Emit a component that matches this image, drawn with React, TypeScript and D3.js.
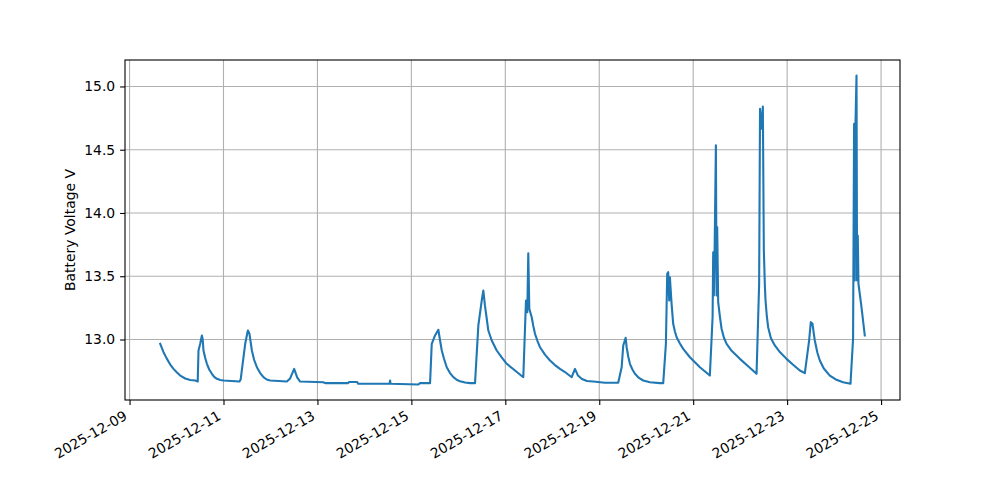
import { useEffect, useRef } from 'react'

import * as d3 from 'd3'

// days since 2025-12-09 00:00 UTC
const startDay = Date.UTC(2025, 11, 9)

// [day offset, battery voltage]
const readings: [number, number][] = [
  [0.653, 12.966], [0.723, 12.9], [0.796, 12.847], [0.866, 12.802], [0.936, 12.768],
  [1.009, 12.739], [1.079, 12.715], [1.185, 12.692], [1.291, 12.68], [1.398, 12.676],
  [1.451, 12.668], [1.468, 12.913], [1.504, 12.966], [1.54, 13.032], [1.557, 13.0],
  [1.574, 12.913], [1.611, 12.854], [1.647, 12.808], [1.696, 12.763], [1.753, 12.729],
  [1.802, 12.705], [1.86, 12.689], [1.93, 12.68], [2.0, 12.676], [2.34, 12.668],
  [2.366, 12.684], [2.426, 12.86], [2.462, 12.966], [2.519, 13.071], [2.553, 13.045],
  [2.604, 12.913], [2.653, 12.838], [2.711, 12.781], [2.781, 12.735], [2.851, 12.702],
  [2.919, 12.684], [2.994, 12.676], [3.349, 12.668], [3.419, 12.692], [3.504, 12.768],
  [3.568, 12.7], [3.632, 12.668], [4.128, 12.662], [4.164, 12.655], [4.653, 12.655],
  [4.675, 12.664], [4.845, 12.664], [4.866, 12.65], [5.536, 12.65], [5.547, 12.676],
  [5.557, 12.65], [6.143, 12.644], [6.185, 12.655], [6.398, 12.655], [6.434, 12.966],
  [6.504, 13.032], [6.574, 13.077], [6.611, 12.992], [6.647, 12.913], [6.696, 12.846],
  [6.753, 12.781], [6.823, 12.735], [6.894, 12.702], [6.972, 12.68], [7.036, 12.67],
  [7.143, 12.66], [7.249, 12.655], [7.355, 12.655], [7.426, 13.111], [7.498, 13.308],
  [7.532, 13.387], [7.566, 13.269], [7.604, 13.166], [7.638, 13.071], [7.711, 12.992],
  [7.817, 12.913], [7.923, 12.858], [8.03, 12.808], [8.206, 12.755], [8.383, 12.702],
  [8.44, 13.308], [8.468, 13.216], [8.489, 13.682], [8.511, 13.243], [8.562, 13.176],
  [8.596, 13.107], [8.632, 13.045], [8.685, 12.988], [8.738, 12.939], [8.845, 12.881],
  [8.951, 12.834], [9.057, 12.798], [9.164, 12.768], [9.27, 12.743], [9.413, 12.702],
  [9.483, 12.768], [9.547, 12.715], [9.632, 12.688], [9.738, 12.672], [9.872, 12.668],
  [10.121, 12.658], [10.404, 12.658], [10.477, 12.781], [10.511, 12.953], [10.562, 13.013],
  [10.583, 12.939], [10.617, 12.866], [10.653, 12.808], [10.706, 12.763], [10.76, 12.729],
  [10.845, 12.696], [10.936, 12.676], [11.079, 12.662], [11.291, 12.655], [11.362, 12.655],
  [11.419, 12.966], [11.447, 13.519], [11.468, 13.532], [11.489, 13.308], [11.504, 13.492],
  [11.54, 13.282], [11.574, 13.124], [11.611, 13.063], [11.647, 13.018], [11.717, 12.968],
  [11.787, 12.926], [11.93, 12.86], [12.143, 12.781], [12.355, 12.715], [12.413, 13.176],
  [12.426, 13.69], [12.44, 13.348], [12.455, 13.664], [12.483, 14.534], [12.498, 13.348],
  [12.511, 13.888], [12.532, 13.295], [12.568, 13.182], [12.604, 13.085], [12.653, 13.016],
  [12.711, 12.966], [12.823, 12.909], [12.994, 12.847], [13.164, 12.791], [13.349, 12.729],
  [13.404, 13.44], [13.423, 14.824], [13.455, 14.666], [13.483, 14.842], [13.504, 13.704],
  [13.526, 13.427], [13.54, 13.308], [13.568, 13.182], [13.596, 13.097], [13.653, 13.012],
  [13.738, 12.953], [13.845, 12.901], [13.987, 12.847], [14.121, 12.802], [14.27, 12.755],
  [14.377, 12.734], [14.468, 12.992], [14.504, 13.137], [14.54, 13.124], [14.568, 13.047],
  [14.589, 12.992], [14.643, 12.897], [14.696, 12.834], [14.781, 12.771], [14.909, 12.715],
  [15.036, 12.684], [15.191, 12.662], [15.349, 12.65], [15.404, 13.006], [15.426, 14.705],
  [15.44, 13.466], [15.455, 14.7], [15.477, 15.087], [15.489, 13.466], [15.504, 13.822],
  [15.519, 13.44], [15.583, 13.255], [15.653, 13.032],
]

const xTickLabels = [
  '2025-12-09', '2025-12-11', '2025-12-13', '2025-12-15', '2025-12-17',
  '2025-12-19', '2025-12-21', '2025-12-23', '2025-12-25',
]
const yTicks = [13.0, 13.5, 14.0, 14.5, 15.0]
const yLabel = 'Battery Voltage V'

interface Reading {
  time: Date
  volts: number
}

export default function App() {
  const svgRef = useRef<SVGSVGElement>(null)
  const width = 1000
  const height = 500
  const margin = { top: 60, right: 100, bottom: 100, left: 125 }

  useEffect(() => {
    if (!svgRef.current) return
    d3.select(svgRef.current).selectAll('*').remove()
    const svg = d3.select(svgRef.current)

    const data: Reading[] = readings.map(([d, v]) => ({
      time: new Date(startDay + d * 86400000),
      volts: v,
    }))

    // matplotlib style 5% margins
    const [t0, t1] = d3.extent(data, (d) => +d.time) as [number, number]
    const [v0, v1] = d3.extent(data, (d) => d.volts) as [number, number]
    const tPad = (t1 - t0) * 0.05
    const vPad = (v1 - v0) * 0.05

    const xScale = d3
      .scaleUtc()
      .domain([new Date(t0 - tPad), new Date(t1 + tPad)])
      .range([margin.left, width - margin.right])

    const yScale = d3
      .scaleLinear()
      .domain([v0 - vPad, v1 + vPad])
      .range([height - margin.bottom, margin.top])

    const tickDates = xTickLabels.map((s) => d3.utcParse('%Y-%m-%d')(s) as Date)
    const font = 'DejaVu Sans, sans-serif'
    const fontSize = 13.9

    // grid
    svg
      .append('g')
      .selectAll('line')
      .data(tickDates)
      .join('line')
      .attr('x1', (d) => xScale(d))
      .attr('x2', (d) => xScale(d))
      .attr('y1', margin.top)
      .attr('y2', height - margin.bottom)
      .attr('stroke', '#b0b0b0')
      .attr('stroke-width', 1.1)

    svg
      .append('g')
      .selectAll('line')
      .data(yTicks)
      .join('line')
      .attr('x1', margin.left)
      .attr('x2', width - margin.right)
      .attr('y1', (d) => yScale(d))
      .attr('y2', (d) => yScale(d))
      .attr('stroke', '#b0b0b0')
      .attr('stroke-width', 1.1)

    // line
    const line = d3
      .line<Reading>()
      .x((d) => xScale(d.time))
      .y((d) => yScale(d.volts))

    svg
      .append('path')
      .datum(data)
      .attr('fill', 'none')
      .attr('stroke', '#1f77b4')
      .attr('stroke-width', 2.1)
      .attr('stroke-linejoin', 'round')
      .attr('stroke-linecap', 'square')
      .attr('d', line)

    // frame
    svg
      .append('rect')
      .attr('x', margin.left)
      .attr('y', margin.top)
      .attr('width', width - margin.left - margin.right)
      .attr('height', height - margin.top - margin.bottom)
      .attr('fill', 'none')
      .attr('stroke', 'black')
      .attr('stroke-width', 1.1)

    // x axis
    const xAxis = svg
      .append('g')
      .attr('transform', `translate(0,${height - margin.bottom})`)
      .call(
        d3
          .axisBottom(xScale)
          .tickValues(tickDates)
          .tickSize(4.9)
          .tickFormat((d) => d3.utcFormat('%Y-%m-%d')(d as Date)),
      )
    xAxis.select('.domain').remove()
    xAxis.selectAll('.tick line').attr('stroke', 'black').attr('stroke-width', 1.1)
    xAxis
      .selectAll('.tick text')
      .attr('y', null)
      .attr('dy', '0.72em')
      .attr('text-anchor', 'end')
      .attr('transform', 'translate(-7,10) rotate(-30)')
      .attr('fill', 'black')
      .style('font-family', font)
      .style('font-size', `${fontSize}px`)

    // y axis
    const yAxis = svg
      .append('g')
      .attr('transform', `translate(${margin.left},0)`)
      .call(
        d3
          .axisLeft(yScale)
          .tickValues(yTicks)
          .tickSize(4.9)
          .tickPadding(4.9)
          .tickFormat((d) => d3.format('.1f')(d as number)),
      )
    yAxis.select('.domain').remove()
    yAxis.selectAll('.tick line').attr('stroke', 'black').attr('stroke-width', 1.1)
    yAxis
      .selectAll('.tick text')
      .attr('fill', 'black')
      .style('font-family', font)
      .style('font-size', `${fontSize}px`)

    svg
      .append('text')
      .attr('transform', `translate(75,${(margin.top + height - margin.bottom) / 2}) rotate(-90)`)
      .attr('text-anchor', 'middle')
      .attr('fill', 'black')
      .style('font-family', font)
      .style('font-size', `${fontSize}px`)
      .text(yLabel)
  }, [])

  return (
    <div style={{ position: 'absolute', left: 0, top: 0 }}>
      <svg ref={svgRef} width={width} height={height} style={{ display: 'block', background: 'white' }} />
    </div>
  )
}
